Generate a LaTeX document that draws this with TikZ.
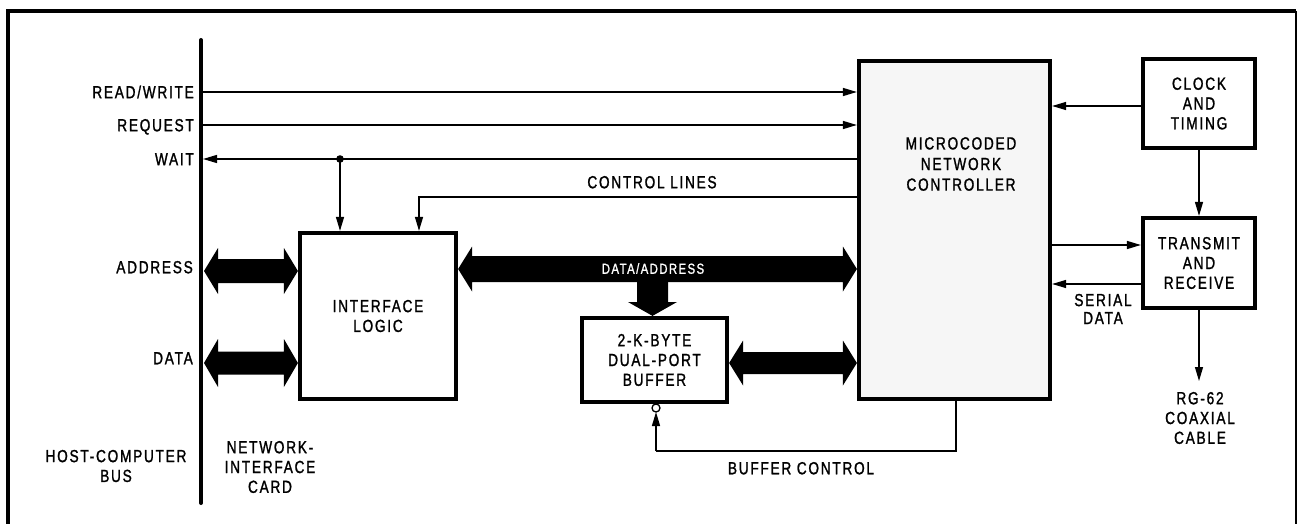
\documentclass[tikz,border=0pt]{standalone}
\usepackage{fontspec}
\setmainfont{Liberation Sans}[FakeStretch=0.78,LetterSpace=10,FakeBold=1.3]
\usetikzlibrary{arrows.meta,calc}
\newcommand\fatarrow[4]{\fill let \p1=(#1),\p2=(#2),\n1={\x2-\x1-28pt},\n2={#3-#4} in (\p1) -- ++(14pt,#3) -- ++(0,-\n2) -- ++(\n1,0) -- ++(0,\n2) -- (\p2) -- ++(-14pt,-#3) -- ++(0,\n2) -- ++(-\n1,0) -- ++(0,-\n2) -- cycle;}
\begin{document}
\begin{tikzpicture}[x=1pt,y=-1pt,
  every node/.style={font=\fontsize{17.5}{19.8}\selectfont},
  box/.style={draw, line width=4.2pt, inner sep=0pt, align=center},
  lbl/.style={inner sep=0pt, text height=12.5pt, text depth=0pt},
  mlbl/.style={inner sep=0pt, align=center},
  sig/.style={line width=1.3pt, -{Triangle[length=14pt,width=8pt]}},
  wire/.style={line width=1.3pt}]
\useasboundingbox (0,0) rectangle (1299,524);
% frame
\draw[line width=4.5pt] (8,524) -- (8,11) -- (1296,11);
\draw[line width=2.5pt] (1296,11) -- (1296,524);
% bus
\coordinate (bustop) at (201,40);
\coordinate (busbot) at (201,503);
\draw[line width=4pt, line cap=round] (bustop) -- (busbot);
% boxes
\node[box, minimum width=156pt, minimum height=166pt] (il) at (378,316) {INTERFACE\\LOGIC};
\node[box, fill=gray!7, minimum width=191pt, minimum height=338pt] (mc) at (954.5,230) {};
\node[mlbl, font=\fontsize{17.5}{20.6}\selectfont] (mct) at (961,164) {MICROCODED\\NETWORK\\CONTROLLER};
\node[box, minimum width=145pt, minimum height=84pt] (buf) at (654.5,360) {2-K-BYTE\\DUAL-PORT\\BUFFER};
\node[box, minimum width=112pt, minimum height=89pt] (ck) at (1199,103.5) {CLOCK\\AND\\TIMING};
\node[box, minimum width=112pt, minimum height=90pt] (tr) at (1199,263) {TRANSMIT\\AND\\RECEIVE};
% bus labels
\node[lbl, anchor=east] (lrw) at (194,92) {READ/WRITE};
\node[lbl, anchor=east] (lrq) at (194,125) {REQUEST};
\node[lbl, anchor=east] (lwt) at (194,159) {WAIT};
\node[lbl, anchor=east] (lad) at (193,267) {ADDRESS};
\node[lbl, anchor=east] (lda) at (193,358) {DATA};
\node[mlbl] (lhost) at (116,466) {HOST-COMPUTER\\BUS};
\node[mlbl] (lnic) at (270,467) {NETWORK-\\INTERFACE\\CARD};
% control signals
\coordinate (rwb) at (203,92);
\coordinate (rqb) at (203,125);
\coordinate (wtb) at (203,159);
\draw[sig] (rwb) -- (rwb -| mc.west);
\draw[sig] (rqb) -- (rqb -| mc.west);
\draw[sig] (wtb -| mc.west) -- (wtb);
\coordinate (dot) at (340,159);
\fill (dot) circle (3.8pt);
\draw[sig] (dot) -- (dot |- il.north);
\coordinate (cl) at (419,197);
\draw[sig] (cl -| mc.west) -- (cl) -- (cl |- il.north);
\node[lbl] (lcl) at (652,182) {CONTROL LINES};
% fat arrows
\coordinate (adL) at (204,271);
\coordinate (daL) at (204,363);
\fatarrow{adL}{il.west |- adL}{23pt}{12pt}
\fatarrow{daL}{il.west |- daL}{24pt}{11.5pt}
\coordinate (dab) at (0,269);
\fatarrow{il.east |- dab}{mc.west |- dab}{22.5pt}{13pt}
\node[lbl, text=white, font=\fontsize{14.5}{16}\selectfont, text height=9.5pt] (lda2) at (653,269) {DATA/ADDRESS};
\coordinate (dtip) at (652.5,0);
\fill (637,276) -- (668,276) -- (668,302) -- (677,302) -- (dtip |- buf.north) -- (628,302) -- (637,302) -- cycle;
\coordinate (bb) at (0,363);
\fatarrow{buf.east |- bb}{mc.west |- bb}{22.5pt}{11pt}
% clock / transmit
\coordinate (ckm) at (0,106);
\draw[sig] (ck.west |- ckm) -- (mc.east |- ckm);
\draw[sig] (ck.south) -- (tr.north);
\coordinate (tx) at (0,245);
\coordinate (rx) at (0,284);
\draw[sig] (mc.east |- tx) -- (tr.west |- tx);
\draw[sig] (tr.west |- rx) -- (mc.east |- rx);
\node[mlbl, font=\fontsize{17.5}{18}\selectfont] (lsd) at (1103,309) {SERIAL\\DATA};
\coordinate (coax) at (1199,381);
\draw[sig] (tr.south) -- (coax);
\node[mlbl] (lcoax) at (1200,418) {RG-62\\COAXIAL\\CABLE};
% buffer control
\coordinate (bc1) at (956,451);
\coordinate (circ) at (656,408);
\draw[line width=1.3pt] (circ) circle (4pt);
\coordinate (circb) at (656,412);
\draw[wire] (mc.south -| bc1) -- (bc1) -- (bc1 -| circb);
\draw[sig] (bc1 -| circb) -- (circb);
\node[lbl] (lbc) at (801,468) {BUFFER CONTROL};
\end{tikzpicture}
\end{document}
